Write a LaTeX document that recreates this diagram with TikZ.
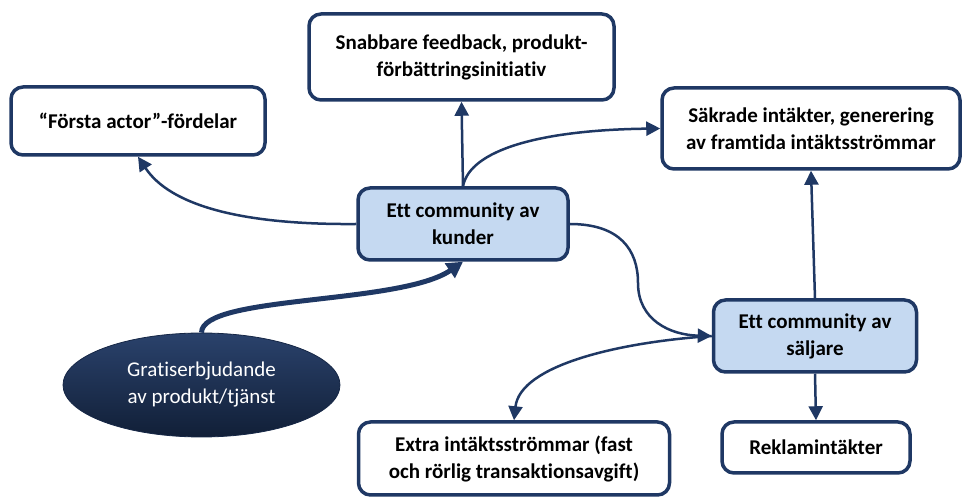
\documentclass[tikz,border=0pt]{standalone}
\usepackage{fontspec}
\setmainfont{Carlito}[Ligatures={TeX,NoCommon}]
\usepackage{xcolor}
\usepackage{tikz}
\usetikzlibrary{shapes.geometric,arrows.meta,positioning}
\definecolor{navy}{HTML}{1F3864}
\definecolor{paleblue}{HTML}{C5D9F1}

\begin{document}
\begin{tikzpicture}[
x=1pt,y=1pt,
box/.style={
  draw=navy,
  line width=3.5pt,
  rounded corners=12pt,
  fill=white,
  align=center,
  inner sep=0pt,
  font=\fontsize{21}{27}\selectfont\bfseries
},
hub/.style={
  box,
  fill=paleblue
},
oval/.style={
  ellipse,
  draw=navy!70!black,
  line width=0.8pt,
  top color=navy!95!white,
  bottom color=navy!55!black,
  text=white,
  align=center,
  inner sep=0pt,
  font=\fontsize{21}{27}\selectfont
},
link/.style={
  draw=navy,
  line width=2.5pt,
  -{Triangle[length=14pt,width=14pt]}
},
thicklink/.style={
  draw=navy,
  line width=5pt,
  -{Triangle[length=16pt,width=17pt]}
}
]
\useasboundingbox (0,0) rectangle (964,503);

% the two communities
\node[hub,minimum width=210,minimum height=72] at (463,279)
  (kunder) {Ett community av\\kunder};
\node[hub,minimum width=203,minimum height=72] at (815,167)
  (saljare) {Ett community av\\säljare};

% effects
\node[box,minimum width=305,minimum height=86] at (461.5,446)
  (feedback) {Snabbare feedback, produkt-\\förbättringsinitiativ};
\node[box,minimum width=254,minimum height=68] at (138,382)
  (forsta) {“Första actor”-fördelar};
\node[box,minimum width=298,minimum height=81] at (811,374.5)
  (sakrade) {Säkrade intäkter, generering\\av framtida intäktsströmmar};
\node[box,minimum width=311,minimum height=73] at (514,44.5)
  (extra) {Extra intäktsströmmar (fast\\och rörlig transaktionsavgift)};
\node[box,minimum width=188,minimum height=51] at (816,55.5)
  (reklam) {Reklamintäkter};

\node[oval,minimum width=277,minimum height=104] at (201.5,118)
  (gratis) {Gratiserbjudande\\av produkt/tjänst};

\coordinate (bend) at (638,220);

\draw[link] (kunder.north) -- (feedback.south);
\draw[link] (kunder.north) .. controls (470,353) and (540,373) .. (sakrade.west);
\draw[link] (kunder.west) .. controls (240,278) and (170,298) .. (forsta.south);
\draw[link] (kunder.east) .. controls (620,279) and (638,253) .. (bend)
  .. controls (638,183) and (670,168) .. (saljare.west);
\draw[link] (saljare.north) -- (sakrade.south);
\draw[link] (saljare.west) .. controls (620,161) and (520,138) .. (extra.north);
\draw[link] (saljare.south) -- (reklam.north);

\draw[thicklink] (gratis.north) .. controls (202,208) and (400,198) .. (kunder.south);

\end{tikzpicture}
\end{document}
